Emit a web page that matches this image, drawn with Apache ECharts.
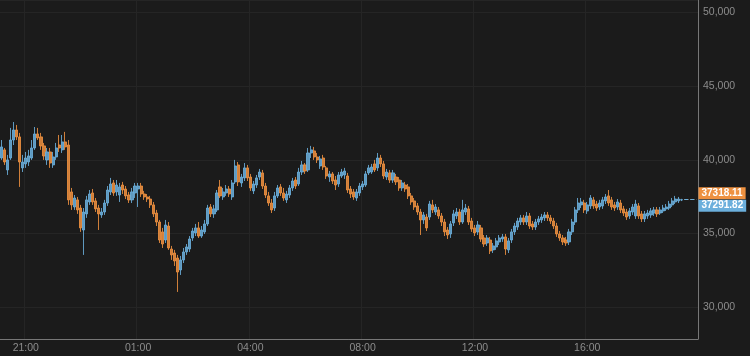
<!DOCTYPE html>
<html>
<head>
<meta charset="utf-8">
<script src="https://cdn.jsdelivr.net/npm/echarts@6/dist/echarts.min.js"></script>
<style>
html,body{margin:0;padding:0;background:#1b1b1b;}
#chart{width:750px;height:356px;}
</style>
</head>
<body>
<div id="chart"></div>
<script>
// ---- data ----
const openV = [40120,40670,39310,40120,41340,42020,41550,39450,39720,39850,40120,40800,41750,41550,40940,39990,40530,39650,40190,41000,40670,41210,41000,37820,36800,37280,36730,35240,36330,37140,37750,37210,36730,36260,36460,37070,37820,38430,37820,37610,38290,38020,37610,37280,37750,38020,38220,37680,37480,37340,36940,36390,35780,35110,34560,35510,33950,33680,33340,32530,33210,33750,33950,34700,35040,35380,34830,35110,35650,36800,36330,36600,38160,37480,37750,38020,37480,38500,39650,38430,38770,39450,38830,37890,38290,38830,39110,38220,37550,37070,36730,37550,38160,37750,37280,37610,38090,38630,38360,39170,39650,39310,40460,40600,40190,39580,40120,39450,38830,39040,38630,38360,38900,38970,38900,38020,37820,37410,37750,38160,38290,39110,39170,39720,39450,40120,39720,38830,39110,38630,38830,38630,38090,38290,38160,37550,37210,36870,36460,35920,36120,36120,36940,36460,36600,36190,35780,35240,34970,35720,36190,36460,35780,36460,36670,35850,35380,35110,35380,34700,34360,34560,33890,34090,34430,34630,34770,33890,34560,35110,35440,35780,36060,35780,36190,35650,35440,35780,35920,36060,36260,36060,35850,35510,34970,34700,34560,34430,35110,35780,36600,36940,37070,36530,36870,37280,37000,36800,36870,37210,37550,37280,36940,36800,37070,36670,36460,36190,36460,36190,36870,36330,35990,36190,36260,36390,36600,36390,36530,36670,36730,36940,37140,37210,37270];
const closeV = [40870,39850,39990,41340,42020,41550,39850,39850,40120,40260,40800,41750,41480,40940,40260,40530,39780,40190,40800,40800,41210,40870,37280,36940,37410,36600,35380,36460,37280,37680,37140,36670,36330,36460,37070,37950,38360,37750,38290,38160,37950,37550,37280,37820,38220,38220,37680,37480,37340,36940,36330,35780,34560,34290,35580,34020,33550,33140,32390,33210,33750,34090,34630,35170,35380,34830,35240,35650,36730,36330,36670,37750,37550,37820,38020,37680,38430,39580,38500,38830,39450,38770,38090,38360,38770,39170,38220,37610,37070,36600,37550,38090,37750,37410,37680,38090,38560,38220,39170,39650,39240,40460,40670,40190,39990,40060,39510,38900,39040,38560,38290,38970,39170,39240,37950,37680,37480,37820,38220,38360,39040,39450,39510,39310,40120,39720,38900,39170,38630,39110,38500,38090,38430,38020,37550,37140,36800,36460,35920,36260,35380,37000,36600,36800,36190,35780,35110,34900,35650,36330,36460,35780,36600,36730,35780,35310,35040,35580,34630,34290,34700,33820,34160,34500,34700,34770,33950,34500,35110,35510,35850,36060,35780,36190,35510,35440,35780,35990,36120,36260,36060,35850,35510,34970,34700,34430,34360,35110,35780,36600,37070,37140,36600,36940,37410,36870,36730,37070,37280,37480,37070,36800,36730,37140,36600,36390,36120,36530,36800,37000,36190,35990,36330,36390,36530,36600,36330,36600,36730,36800,37000,37210,37340,37340,37291.82];
const lowV = [39990,39650,38970,39990,41000,41340,38160,39170,39450,39580,39990,40670,41340,40670,39990,39650,39450,39450,39990,40530,40460,40670,36940,36600,36600,36330,35110,33550,36060,36940,36940,36460,35240,36060,36260,36870,37610,37550,37550,37140,37680,37340,37070,37070,37410,36800,37480,37280,37140,36730,36120,35510,34360,34020,34360,33890,33210,32800,31040,32190,33000,33550,33750,34500,34830,34700,34700,34970,35510,36120,36060,36460,37410,37280,37550,37480,37280,38360,38220,38160,38560,38560,37890,37680,38090,38630,38020,37410,36870,36390,36530,37410,37550,37210,37070,37410,37890,38020,38220,38970,39040,39170,40120,39990,39780,39380,39310,38700,38500,38360,37950,38160,38770,38700,37750,37410,37280,37210,37550,37950,38160,38970,39040,39170,39240,39510,38700,38630,38430,38430,38290,37890,37890,37820,37340,36940,36600,36260,34900,35650,35170,35920,36390,36260,35990,35510,34830,34630,34700,35510,35990,35580,35650,36260,35580,35110,34830,34900,34430,34090,34160,33610,33680,33890,34220,34430,33550,33680,34360,34900,35240,35580,35580,35580,35310,35240,35240,35580,35720,35850,35850,35650,35310,34770,34500,34220,34160,34220,34900,35580,36390,36730,36390,36330,36670,36670,36530,36600,36670,37000,36870,36600,36530,36600,36390,36190,35920,35990,36260,35990,35990,35780,35780,35990,36060,36190,36120,36260,36390,36530,36600,36800,37000,37070,37200];
const highV = [41340,40800,40330,42160,42560,42360,41820,40330,40530,40670,41340,42220,42160,41820,41140,40800,40800,40530,41140,41680,41680,41890,41340,38090,37610,37480,36940,36730,37550,37950,38020,37410,36940,36730,37280,38220,38770,38630,38630,38430,38500,38220,37820,38090,38430,38430,38430,37890,37680,37550,37140,36600,35920,35380,35920,35780,34160,33890,33550,33480,34020,34290,34830,35380,35650,35780,35510,35920,36940,37000,36940,37950,38630,38090,38290,38220,38630,39990,39850,39040,39780,39650,39040,38560,38970,39380,39310,38430,37820,37340,37820,38290,38360,38090,37890,38290,38770,38830,39450,39920,39780,40800,40940,40870,40460,40260,40330,39580,39240,39170,38900,39170,39380,39450,39110,38220,38020,38020,38430,38560,39240,39650,39720,39990,40460,40330,39920,39380,39310,39310,39040,38830,38630,38500,38360,37750,37410,37070,36670,36460,36330,37210,37280,37000,36800,36390,35990,35440,35850,36600,36730,36670,37280,37000,36870,36060,35580,35850,35580,34900,34900,34770,34360,34700,34900,34970,34970,34700,35310,35720,36060,36260,36260,36460,36390,35850,35990,36190,36330,36460,36460,36260,36060,35720,35170,34900,34770,35310,35990,36800,37410,37410,37280,37140,37610,37480,37210,37280,37480,37680,37950,37480,37140,37340,37280,36870,36670,36730,37000,37280,37070,36530,36530,36600,36730,36800,36800,36800,36940,37000,37210,37410,37550,37480,37350];
const openLast = 37318.11;
const closeLast = 37291.82;
const tickIndex = [8, 45, 82, 119, 156, 193];
const tickLabels = ['21:00', '01:00', '04:00', '08:00', '12:00', '16:00'];
const slotCount = 230;

const categories = [];
for (let i = 0; i < slotCount; i++) categories.push(String(i));
const ohlc = [];
for (let i = 0; i < slotCount; i++) {
  if (i < closeV.length) ohlc.push([openV[i], closeV[i], lowV[i], highV[i]]);
  else ohlc.push('-');
}

const UP = '#6bafdc';
const DOWN = '#ee9140';
const chart = echarts.init(document.getElementById('chart'), null, {renderer: 'canvas'});
const showTick = (idx) => tickIndex.indexOf(idx) >= 0;

chart.setOption({
  backgroundColor: '#1b1b1b',
  animation: false,
  grid: {left: 0, right: 52, top: 0, bottom: 17, containLabel: false},
  xAxis: {
    type: 'category',
    data: categories,
    boundaryGap: true,
    axisLine: {show: true, lineStyle: {color: '#777777', width: 1}},
    axisTick: {show: false},
    axisLabel: {
      interval: (idx) => showTick(idx),
      formatter: (v, idx) => { const k = tickIndex.indexOf(Number(v)); return k >= 0 ? tickLabels[k] : ''; },
      color: '#8c8c8c', fontSize: 10.5, margin: 4, fontFamily: 'Liberation Sans, Arial, sans-serif'
    },
    splitLine: {show: true, interval: (idx) => showTick(idx), lineStyle: {color: '#252525', width: 1}}
  },
  yAxis: {
    type: 'value',
    position: 'right',
    min: 27850,
    max: 50830,
    splitNumber: 5,
    scale: true,
    axisLine: {show: true, lineStyle: {color: '#777777', width: 1}},
    axisTick: {show: false},
    axisLabel: {
      showMinLabel: false, showMaxLabel: false,
      color: '#8c8c8c', fontSize: 10.5, margin: 5, fontFamily: 'Liberation Sans, Arial, sans-serif',
      formatter: (v) => (v % 5000 === 0 ? v.toLocaleString('en-US') : '')
    },
    splitLine: {show: true, lineStyle: {color: '#252525', width: 1}}
  },
  series: [{
    type: 'candlestick',
    data: ohlc,
    barWidth: 2.6,
    itemStyle: {color: UP, color0: DOWN, borderColor: UP, borderColor0: DOWN, borderWidth: 1, opacity: 0.85},
    markLine: {
      silent: true,
      symbol: ['none', 'none'],
      animation: false,
      data: [
        [{coord: [closeV.length, openLast], lineStyle: {color: DOWN, type: 'dashed', width: 1},
          label: {show: true, position: 'end', formatter: openLast.toFixed(2), color: '#fff', backgroundColor: DOWN,
                  fontSize: 10, fontWeight: 'bold', padding: [1, 3], distance: 2, offset: [0, -6], fontFamily: 'Liberation Sans, Arial, sans-serif'}},
         {coord: [slotCount - 1, openLast]}],
        [{coord: [closeV.length, closeLast], lineStyle: {color: UP, type: 'dashed', width: 1},
          label: {show: true, position: 'end', formatter: closeLast.toFixed(2), color: '#fff', backgroundColor: UP,
                  fontSize: 10, fontWeight: 'bold', padding: [1, 3], distance: 2, offset: [0, 6], fontFamily: 'Liberation Sans, Arial, sans-serif'}},
         {coord: [slotCount - 1, closeLast]}]
      ]
    }
  }]
});
</script>
</body>
</html>
